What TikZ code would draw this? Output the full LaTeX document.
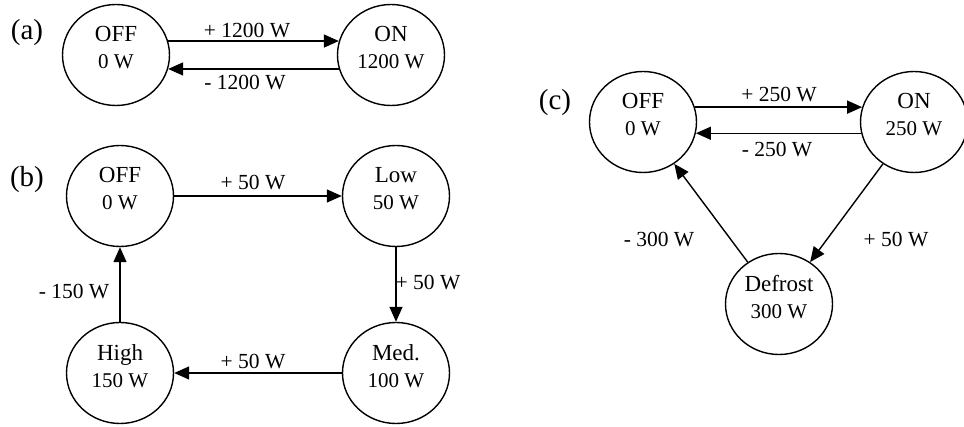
\documentclass[tikz,border=0pt]{standalone}
\usepackage{fontspec}
\setmainfont{Liberation Serif}
\usetikzlibrary{arrows.meta,shapes.geometric}
\tikzset{
  stnode/.style={ellipse, draw, line width=1.4pt, minimum width=107pt, minimum height=101pt, inner sep=0pt},
  sttext/.style={align=center, inner sep=0pt, font=\fontsize{21}{27}\selectfont},
  arr/.style={-{Triangle[length=15pt,width=13pt]}, line width=1.4pt},
  lbl/.style={inner sep=0pt, font=\fontsize{21.5}{25}\selectfont},
  panel/.style={inner sep=0pt, font=\fontsize{29}{31}\selectfont},
}
\newcommand\stateN[4]{\node[stnode] (#1) at (#2) {}; \node[sttext] (#1t) at ([yshift=7pt]#1.center) {{\fontsize{23}{27}\selectfont #3}\\#4};}
\begin{document}
\begin{tikzpicture}[x=1pt,y=-1pt]
\useasboundingbox (0,0) rectangle (964,427);
% (a)
\stateN{offa}{116,55}{OFF}{0 W}
\stateN{ona}{391,55}{ON}{1200 W}
\draw[arr] (offa.15) -- (ona.165);
\draw[arr] (ona.-165) -- (offa.-15);
\node[lbl] (la1) at (247,31) {+ 1200 W};
\node[lbl] (la2) at (245,83) {- 1200 W};
\node[panel] (pa) at (27,33) {(a)};
% (b)
\stateN{offb}{120,196}{OFF}{0 W}
\stateN{low}{396,196}{Low}{50 W}
\stateN{med}{396,373}{Med.}{100 W}
\stateN{high}{120,373}{High}{150 W}
\draw[arr] (offb) -- (low);
\draw[arr] (low) -- (med);
\draw[arr] (med) -- (high);
\draw[arr] (high) -- (offb);
\node[lbl] (lb1) at (253,183) {+ 50 W};
\node[lbl] (lb2) at (428,283) {+ 50 W};
\node[lbl] (lb3) at (253,362) {+ 50 W};
\node[lbl] (lb4) at (74,292) {- 150 W};
\node[panel] (pb) at (27,180) {(b)};
% (c)
\stateN{offc}{643,122}{OFF}{0 W}
\stateN{onc}{914,122}{ON}{250 W}
\stateN{defr}{779,304}{Defrost}{300 W}
\draw[arr] (offc.16) -- (onc.164);
\draw[arr] (onc.-168) -- (offc.-12);
\draw[arr] (onc) -- (defr);
\draw[arr] (defr) -- (offc);
\node[lbl] (lc1) at (779,95) {+ 250 W};
\node[lbl] (lc2) at (777,150) {- 250 W};
\node[lbl] (lc3) at (659,240) {- 300 W};
\node[lbl] (lc4) at (896,240) {+ 50 W};
\node[panel] (pc) at (555,103) {(c)};
\end{tikzpicture}
\end{document}
